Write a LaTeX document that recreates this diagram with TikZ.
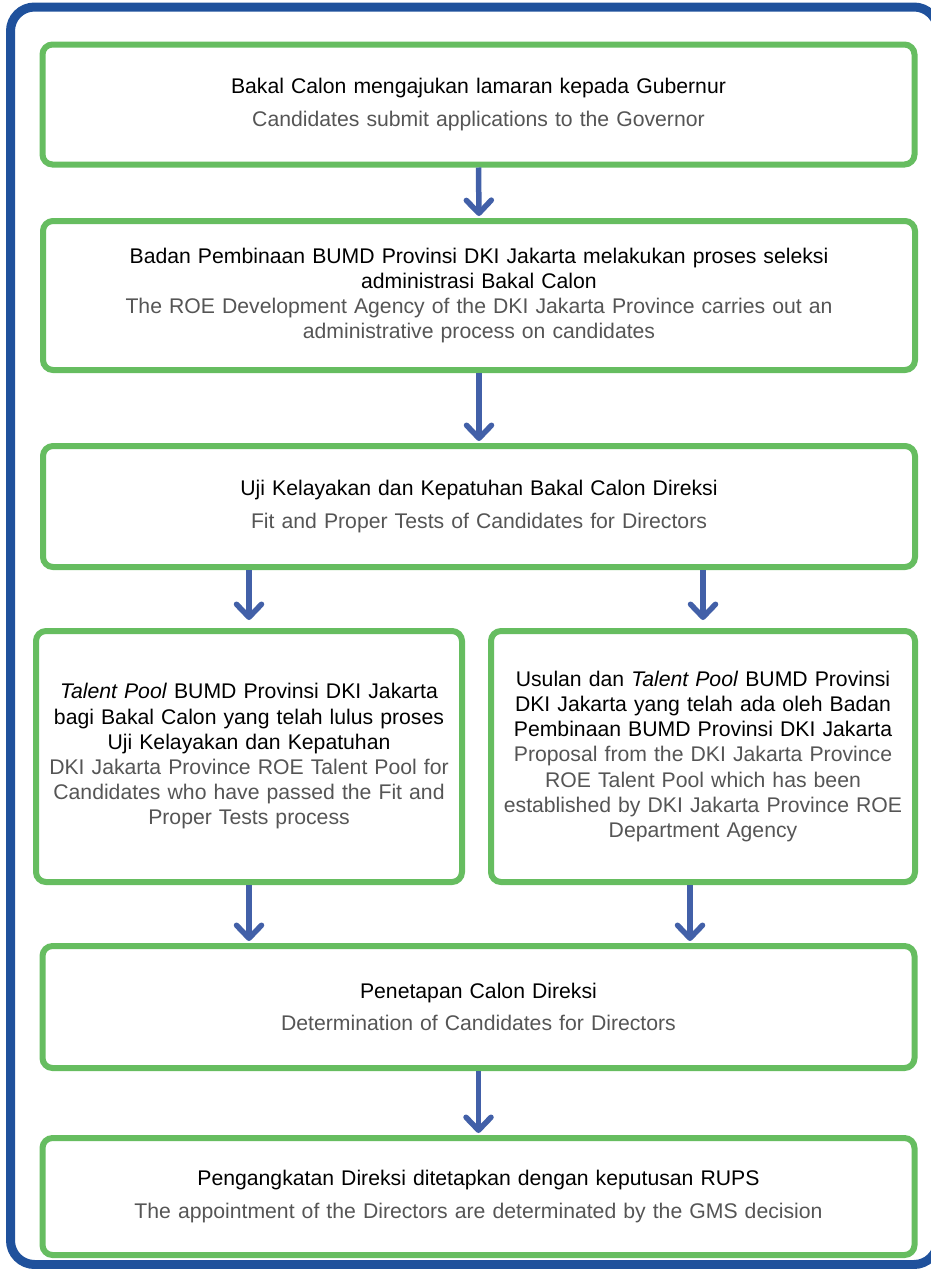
\documentclass[tikz,border=0pt]{standalone}
\usepackage{fontspec}
\setmainfont{Liberation Sans}
\usetikzlibrary{arrows.meta}

\definecolor{boxgreen}{RGB}{102,189,96}
\definecolor{frameblue}{RGB}{31,81,156}
\definecolor{arrowblue}{RGB}{66,96,168}
\definecolor{engray}{RGB}{85,85,85}
\newcommand{\entxt}[1]{{\color{engray}#1}}

\begin{document}
\begin{tikzpicture}[
    x=1pt, y=-1pt,
    block/.style={rectangle, draw=boxgreen, fill=white, line width=6pt, rounded corners=10pt, align=center, inner sep=0pt, font=\fontsize{21.2}{25.2}\selectfont},
    wide/.style={block, minimum width=872pt, text width=850pt},
    half/.style={block, minimum width=426pt, text width=422pt},
    arrow/.style={-{Straight Barb[length=13pt, width=25pt, round]}, line width=5.5pt, draw=arrowblue, shorten >=2pt}
]
\useasboundingbox (0,0) rectangle (930,1269);

% Frame
\draw[frameblue, line width=9pt, rounded corners=24pt] (10.5,7) rectangle (938,1264.5);

% Nodes
\node[wide, minimum height=120pt] (apply) at (478.5,104.5) {Bakal Calon mengajukan lamaran kepada Gubernur\\[7pt]\entxt{Candidates submit applications to the Governor}};

\node[wide, minimum height=149pt] (admin) at (479,295.5) {Badan Pembinaan BUMD Provinsi DKI Jakarta melakukan proses seleksi\\ administrasi Bakal Calon\\ \entxt{The ROE Development Agency of the DKI Jakarta Province carries out an\\ administrative process on candidates}};

\node[wide, minimum height=121pt] (fit) at (479,506.5) {Uji Kelayakan dan Kepatuhan Bakal Calon Direksi\\[7pt]\entxt{Fit and Proper Tests of Candidates for Directors}};

\node[half, minimum height=251pt] (pool) at (249,756.5) {\textit{Talent Pool} BUMD Provinsi DKI Jakarta\\ bagi Bakal Calon yang telah lulus proses\\ Uji Kelayakan dan Kepatuhan\\ \entxt{DKI Jakarta Province ROE Talent Pool for\\ Candidates who have passed the Fit and\\ Proper Tests process}};

\node[half, minimum width=424pt, minimum height=251pt] (proposal) at (703,756.5) {Usulan dan \textit{Talent Pool} BUMD Provinsi\\ DKI Jakarta yang telah ada oleh Badan\\ Pembinaan BUMD Provinsi DKI Jakarta\\ \entxt{Proposal from the DKI Jakarta Province\\ ROE Talent Pool which has been\\ established by DKI Jakarta Province ROE\\ Department Agency}};

\node[wide, minimum height=122pt] (nominate) at (478.5,1007) {Penetapan Calon Direksi\\[7pt]\entxt{Determination of Candidates for Directors}};

\node[wide, minimum height=117pt] (appoint) at (478.5,1196.5) {Pengangkatan Direksi ditetapkan dengan keputusan RUPS\\[7pt]\entxt{The appointment of the Directors are determinated by the GMS decision}};

% Arrows
\draw[arrow] (apply.south) -- (admin.north);
\draw[arrow] (admin.south) -- (fit.north);
\draw[arrow, shorten >=8pt] (fit.south -| pool.north) -- (pool.north);
\draw[arrow, shorten >=8pt] (fit.south -| proposal.north) -- (proposal.north);
\draw[arrow] (pool.south) -- (pool.south |- nominate.north);
\draw[arrow] ([xshift=-13pt]proposal.south) -- ([xshift=-13pt]proposal.south |- nominate.north);
\draw[arrow] (nominate.south) -- (appoint.north);

\end{tikzpicture}
\end{document}
